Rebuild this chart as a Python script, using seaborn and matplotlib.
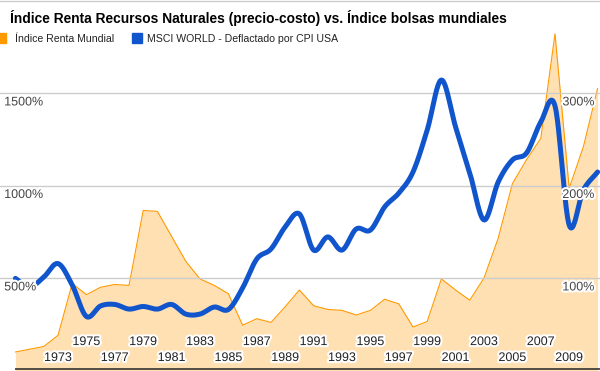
import numpy as np
import matplotlib.pyplot as plt
import matplotlib.patheffects as pe
from matplotlib.patches import Rectangle
from matplotlib.lines import Line2D
import seaborn as sns

# datos anuales
years = list(range(1970, 2012))
renta_mundial = [20, 23, 26, 38, 94, 82, 90, 93, 92, 173,
                 172, 145, 118, 99, 92, 83, 49, 56, 52, 69,
                 87, 70, 66, 65, 60, 65, 77, 72, 47, 53,
                 99, 87, 76, 100, 143, 202, 228, 251, 364, 197,
                 242, 305]
msci_world = [498, 451, 505, 578, 462, 292, 349, 357, 332, 346,
              332, 357, 305, 305, 343, 330, 446, 603, 657, 776,
              846, 651, 722, 651, 765, 759, 884, 959, 1073, 1300,
              1570, 1316, 1068, 814, 1019, 1138, 1176, 1343, 1430, 786,
              976, 1073]
left_ticks = [500, 1000, 1500]
right_ticks = [100, 200, 300]
label_years = list(range(1973, 2010, 2))

TITLE = "Índice Renta Recursos Naturales (precio-costo) vs. Índice bolsas mundiales"
LEG_RENTA = "Índice Renta Mundial"
LEG_MSCI = "MSCI WORLD - Deflactado por CPI USA"

ORANGE = "#FF9900"
BLUE = "#1155CC"
TXT = "#444444"


def smooth(xs, ys, n=24):
    # curva tipo catmull-rom entre puntos anuales
    xs = np.asarray(xs, float)
    ys = np.asarray(ys, float)
    m = np.gradient(ys, xs)
    out_x, out_y = [], []
    for i in range(len(xs) - 1):
        t = np.linspace(0, 1, n, endpoint=False)
        h = xs[i + 1] - xs[i]
        h00 = 2 * t**3 - 3 * t**2 + 1
        h10 = t**3 - 2 * t**2 + t
        h01 = -2 * t**3 + 3 * t**2
        h11 = t**3 - t**2
        out_x.append(xs[i] + t * h)
        out_y.append(h00 * ys[i] + h10 * h * m[i] + h01 * ys[i + 1] + h11 * h * m[i + 1])
    out_x.append([xs[-1]])
    out_y.append([ys[-1]])
    return np.concatenate(out_x), np.concatenate(out_y)


sns.set_theme(style="white")
plt.rcParams['font.family'] = ['Liberation Sans', 'DejaVu Sans']

fig = plt.figure(figsize=(6, 3.71), dpi=100)
ax = fig.add_axes([0, 0, 1, 1])
ax2 = ax.twinx()

# escala: 14.2 px por año, 1973 en x=58
x0 = 1973 - 58 / 14.2
x1 = 1973 + 542 / 14.2
ax.set_xlim(x0, x1)
ax.set_ylim(-0.54, 400.54)
ax2.set_ylim(-2.7, 2002.7)

# area naranja (eje derecho)
ax.fill_between(years, renta_mundial, 0, color=ORANGE, alpha=0.3, linewidth=0, zorder=1)
sns.lineplot(x=years, y=renta_mundial, ax=ax, color=ORANGE, linewidth=0.8, zorder=2)

for v in right_ticks:
    ax.axhline(v, color="#cccccc", linewidth=1, zorder=3)
ax.hlines(1.2, years[0], x1, color="#333333", linewidth=1.2, zorder=3)

# linea azul suavizada (eje izquierdo)
sx, sy = smooth(years, msci_world)
sns.lineplot(x=sx, y=sy, ax=ax2, color=BLUE, linewidth=3.6, zorder=4, sort=False,
             solid_capstyle="round", solid_joinstyle="round")

for a in (ax, ax2):
    a.set_xticks([])
    a.set_yticks([])
    a.set_xlabel("")
    a.set_ylabel("")
    for s in a.spines.values():
        s.set_visible(False)

halo = [pe.withStroke(linewidth=3, foreground="white")]
ytr = ax2.get_yaxis_transform()
# etiquetas 9.5 px por debajo de cada linea de rejilla
for v in left_ticks:
    ax2.text(0.007, v - 51, f"{v}%", transform=ytr, ha="left", va="center", fontsize=9,
             color=TXT, path_effects=halo, zorder=10)
for v in right_ticks:
    ax2.text(0.991, v * 5 - 51, f"{v}%", transform=ytr, ha="right", va="center", fontsize=9,
             color=TXT, path_effects=halo, zorder=10)

xtr = ax2.get_xaxis_transform()
for yr in label_years:
    yf = 0.0350 if (yr - 1973) % 4 == 0 else 0.0780
    ax2.text(yr, yf, str(yr), transform=xtr, ha="center", va="center", fontsize=9,
             color="#222222", path_effects=halo, zorder=10)

# titulo y leyenda
fig.text(10 / 600, 1 - 23 / 371, TITLE, ha="left", va="baseline", fontsize=9.9,
         fontweight="bold", color="#000000")
fig.add_artist(Rectangle((-4 / 600, 1 - 43 / 371), 10 / 600, 10 / 371,
                         transform=fig.transFigure, color=ORANGE))
fig.add_artist(Rectangle((132 / 600, 1 - 43 / 371), 10 / 600, 10 / 371,
                         transform=fig.transFigure, color=BLUE))
fig.text(15 / 600, 1 - 42.5 / 371, LEG_RENTA, ha="left", va="baseline", fontsize=7.6, color="#222222")
fig.text(147 / 600, 1 - 42.5 / 371, LEG_MSCI, ha="left", va="baseline", fontsize=7.6, color="#222222")
fig.add_artist(Line2D([0, 1], [1 - 0.5 / 371, 1 - 0.5 / 371], transform=fig.transFigure,
                      color="#cccccc", linewidth=1))

fig.savefig("out.png", dpi=100)
